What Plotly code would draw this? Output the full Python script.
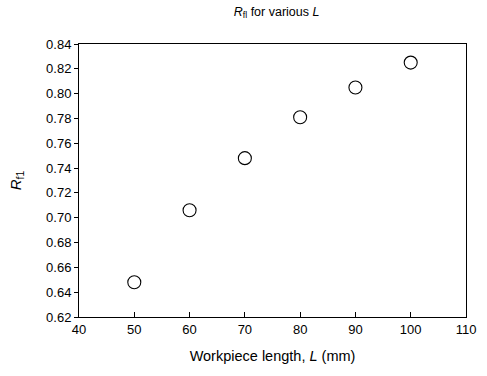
import plotly.graph_objects as go

L_mm = [50, 60, 70, 80, 90, 100]
R_f1 = [0.648, 0.706, 0.748, 0.781, 0.805, 0.825]
x_ticks = [40, 50, 60, 70, 80, 90, 100, 110]
y_ticks = [0.62, 0.64, 0.66, 0.68, 0.70, 0.72, 0.74, 0.76, 0.78, 0.80, 0.82, 0.84]

fig = go.Figure()
fig.add_trace(go.Scatter(
    x=L_mm, y=R_f1, mode="markers",
    marker=dict(symbol="circle-open", size=13, color="black", line=dict(width=1.1)),
    showlegend=False,
))

font = "Liberation Sans, Arial, sans-serif"
fig.update_layout(
    width=487, height=376,
    margin=dict(l=79, r=21, t=44, b=59),
    paper_bgcolor="white", plot_bgcolor="white",
    font=dict(family=font, size=13, color="black"),
    title=dict(text="<i>R</i><sub>fl</sub> for various <i>L</i>", x=0.568, xanchor="center",
               y=0.982, yanchor="top", font=dict(size=12.5)),
    xaxis=dict(range=[40, 110], tickvals=x_ticks, ticktext=[str(v) for v in x_ticks],
               ticks="inside", ticklen=5, tickcolor="black", showline=True, linecolor="black",
               linewidth=1, mirror=True, showgrid=False, zeroline=False,
               tickfont=dict(size=13),
               title=dict(text="Workpiece length, <i>L</i> (mm)", font=dict(size=14.5), standoff=15)),
    yaxis=dict(range=[0.62, 0.84], tickvals=y_ticks, ticktext=["%.2f" % v for v in y_ticks],
               ticks="outside", ticklen=4, tickcolor="black", showline=True, linecolor="black",
               linewidth=1, mirror=True, showgrid=False, zeroline=False,
               tickfont=dict(size=13),
               title=dict(text="<i>R</i><sub>f1</sub>", font=dict(size=15), standoff=20)),
)

fig.write_html("out.html")
